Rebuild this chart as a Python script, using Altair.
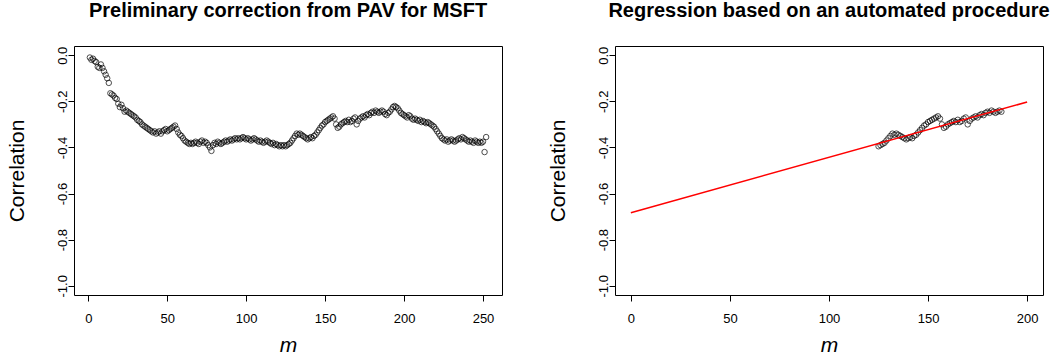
import altair as alt
import pandas as pd

# ---- data ----
m_index = list(range(1, 253))
corr = [
    -0.010, -0.020, -0.015, -0.025, -0.030, -0.050, -0.055, -0.040, -0.055, -0.070,
    -0.085, -0.100, -0.120, -0.165, -0.170, -0.175, -0.185, -0.190, -0.210, -0.225,
    -0.215, -0.230, -0.245, -0.240, -0.245, -0.250, -0.255, -0.260, -0.265, -0.270,
    -0.280, -0.285, -0.290, -0.300, -0.305, -0.310, -0.315, -0.320, -0.325, -0.330,
    -0.335, -0.330, -0.340, -0.335, -0.330, -0.340, -0.330, -0.325, -0.320, -0.330,
    -0.325, -0.320, -0.315, -0.310, -0.305, -0.320, -0.335, -0.345, -0.350, -0.360,
    -0.370, -0.375, -0.380, -0.385, -0.380, -0.385, -0.380, -0.375, -0.380, -0.385,
    -0.375, -0.370, -0.380, -0.375, -0.380, -0.390, -0.400, -0.415, -0.390, -0.380,
    -0.385, -0.375, -0.380, -0.385, -0.380, -0.375, -0.370, -0.375, -0.370, -0.365,
    -0.370, -0.365, -0.360, -0.365, -0.360, -0.365, -0.360, -0.355, -0.360, -0.365,
    -0.360, -0.365, -0.370, -0.365, -0.360, -0.365, -0.370, -0.375, -0.370, -0.375,
    -0.380, -0.375, -0.370, -0.375, -0.380, -0.385, -0.380, -0.390, -0.385, -0.390,
    -0.395, -0.390, -0.395, -0.390, -0.395, -0.390, -0.385, -0.380, -0.370, -0.360,
    -0.350, -0.340, -0.345, -0.340, -0.345, -0.350, -0.355, -0.360, -0.365, -0.360,
    -0.355, -0.360, -0.350, -0.345, -0.335, -0.325, -0.315, -0.305, -0.300, -0.290,
    -0.285, -0.280, -0.275, -0.270, -0.265, -0.275, -0.300, -0.315, -0.310, -0.300,
    -0.295, -0.290, -0.285, -0.290, -0.280, -0.290, -0.285, -0.275, -0.270, -0.300,
    -0.285, -0.275, -0.270, -0.265, -0.270, -0.260, -0.255, -0.260, -0.250, -0.245,
    -0.250, -0.240, -0.245, -0.250, -0.245, -0.240, -0.245, -0.255, -0.260, -0.250,
    -0.245, -0.235, -0.225, -0.220, -0.225, -0.230, -0.240, -0.250, -0.255, -0.260,
    -0.265, -0.270, -0.260, -0.265, -0.275, -0.280, -0.275, -0.280, -0.285, -0.280,
    -0.290, -0.285, -0.290, -0.295, -0.290, -0.295, -0.300, -0.305, -0.310, -0.320,
    -0.330, -0.340, -0.350, -0.360, -0.365, -0.370, -0.365, -0.375, -0.370, -0.365,
    -0.370, -0.375, -0.370, -0.365, -0.360, -0.365, -0.355, -0.360, -0.365, -0.370,
    -0.375, -0.370, -0.375, -0.380, -0.370, -0.375, -0.380, -0.375, -0.380, -0.375,
    -0.420, -0.355,
]
reg_range = [125, 187]          # window used by the automated procedure
line_m = [0, 200]
line_corr = [-0.683, -0.203]    # fitted regression line end points
left_ticks = [0, 50, 100, 150, 200, 250]
right_ticks = [0, 50, 100, 150, 200]
y_ticks = [-1.0, -0.8, -0.6, -0.4, -0.2, 0.0]
titles = ["Preliminary correction from PAV for MSFT",
          "Regression based on an automated procedure"]

df = pd.DataFrame({"m": m_index, "corr": corr})
df_reg = df[(df["m"] >= reg_range[0]) & (df["m"] <= reg_range[1])]
df_line = pd.DataFrame({"m": line_m, "corr": line_corr})

FONT = "Liberation Sans"
W, H = 428, 249

minus_expr = "datum.value < 0 ? '-' + format(-datum.value, '.1f') : format(datum.value, '.1f')"


def y_enc():
    return alt.Y(
        "corr:Q",
        scale=alt.Scale(domain=[-1.04, 0.04], nice=False, zero=False),
        axis=alt.Axis(
            values=y_ticks, labelExpr=minus_expr, labelAngle=270,
            labelAlign="center", labelBaseline="alphabetic", labelPadding=2,
            labelFlush=False, labelFont=FONT, labelFontSize=13, labelColor="black",
            tickSize=6, tickColor="black", domain=False, grid=False,
            title="Correlation", titleFont=FONT, titleFontSize=21,
            titleFontWeight="normal", titleColor="black", titleAngle=270,
            titleX=-57, titleY=H / 2, titleAlign="center", titleBaseline="middle",
        ),
    )


def x_enc(domain, ticks):
    return alt.X(
        "m:Q",
        scale=alt.Scale(domain=domain, nice=False, zero=False),
        axis=alt.Axis(
            values=ticks, format="d", labelFont=FONT, labelFontSize=13,
            labelColor="black", labelPadding=11.5, labelFlush=False,
            tickSize=6, tickColor="black", domain=False, grid=False,
            title="m", titleFont=FONT, titleFontSize=21, titleFontStyle="italic",
            titleFontWeight="normal", titleColor="black",
            titleY=50, titleBaseline="middle",
        ),
    )


def ttl(text):
    return alt.TitleParams(text=text, font=FONT, fontSize=20, fontWeight="bold",
                           color="black", offset=9, baseline="alphabetic",
                           anchor="middle")


pts_style = dict(shape="circle", filled=False, color="black", size=30, strokeWidth=1)

left = alt.Chart(df).mark_point(**pts_style).encode(
    x=x_enc([-9.04, 262.04], left_ticks), y=y_enc()
).properties(width=W, height=H, title=ttl(titles[0]))

right_pts = alt.Chart(df_reg).mark_point(**pts_style).encode(
    x=x_enc([-8, 208], right_ticks), y=y_enc()
)
right_line = alt.Chart(df_line).mark_line(color="#ff0000", strokeWidth=1.5).encode(
    x="m:Q", y="corr:Q"
)
right = alt.layer(right_pts, right_line).properties(
    width=W, height=H, title=ttl(titles[1])
)

chart = alt.hconcat(left, right, spacing=43).properties(
    padding={"left": 5, "top": 0, "right": 0, "bottom": 0},
    background="white",
).configure_view(stroke="black", strokeWidth=1)

chart.save("out.html", embed_options={"renderer": "svg", "actions": False})
